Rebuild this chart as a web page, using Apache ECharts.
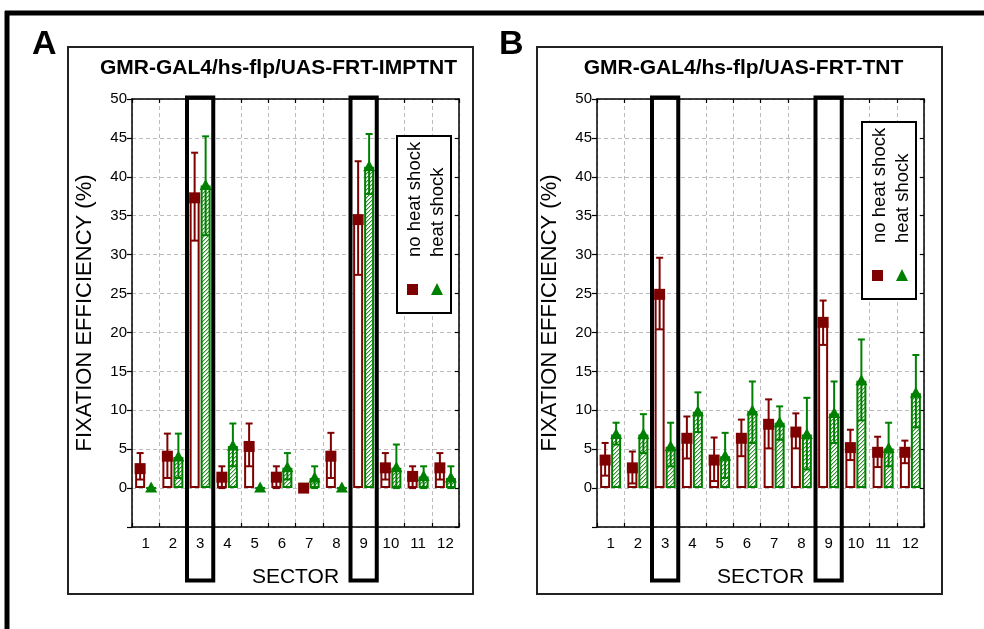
<!DOCTYPE html>
<html><head><meta charset="utf-8">
<script src="https://cdn.jsdelivr.net/npm/echarts@6/dist/echarts.min.js"></script>
<style>html,body{margin:0;padding:0;background:#fff}#c{width:984px;height:629px}</style>
</head><body><div id="c"></div>
<script>
// ---------- data ----------
const sectors = ['1','2','3','4','5','6','7','8','9','10','11','12'];
const highlighted = [2, 8]; // sector 3 and 9 (indices)

const titleA = 'GMR-GAL4/hs-flp/UAS-FRT-IMPTNT';
const titleB = 'GMR-GAL4/hs-flp/UAS-FRT-TNT';
const seriesNames = ['no heat shock', 'heat shock'];

// Panel A, no heat shock
const aNoMean = [2.5, 4.1, 37.3, 1.4, 5.35, 1.4, 0, 4.1, 34.5, 2.6, 1.5, 2.6];
const aNoLow  = [1.1, 1.3, 31.8, 0,   2.8,  0,   0, 1.3, 27.4, 1.1, 0,   1.1];
const aNoHigh = [4.5, 7.0, 43.1, 2.8, 8.3,  2.8, 0, 7.1, 42.0, 4.5, 2.8, 4.5];
// Panel A, heat shock
const aHsMean = [0, 4.0, 38.9, 5.4, 0, 2.6, 1.3, 0, 41.3, 2.6, 1.5, 1.3];
const aHsLow  = [0, 1.3, 32.5, 2.8, 0, 1.1, 0,   0, 37.8, 0,   0,   0];
const aHsHigh = [0, 7.0, 45.2, 8.3, 0, 4.5, 2.8, 0, 45.5, 5.6, 2.8, 2.8];
// Panel B, no heat shock
const bNoMean = [3.6, 2.6, 24.9, 6.4, 3.6, 6.4, 8.2, 7.2, 21.3, 5.2, 4.6, 4.6];
const bNoLow  = [1.6, 0.6, 20.4, 3.8, 0.9, 4.1, 5.1, 5.1, 18.4, 3.6, 2.7, 3.2];
const bNoHigh = [5.8, 4.7, 29.6, 9.2, 6.5, 8.8, 11.4, 9.6, 24.1, 7.5, 6.6, 6.1];
// Panel B, heat shock
const bHsMean = [6.9, 6.9, 5.3, 9.8, 4.1, 9.9, 8.4, 6.9, 9.6, 13.8, 5.1, 12.2];
const bHsLow  = [5.6, 4.5, 2.8, 7.2, 1.3, 5.8, 6.2, 2.4, 5.8, 8.7, 2.8, 7.8];
const bHsHigh = [8.4, 9.5, 8.4, 12.3, 7.1, 13.7, 10.5, 11.6, 13.7, 19.1, 8.4, 17.1];

// ---------- style ----------
const RED = '#7f0000';
const GREEN = '#008000';
const FONT = '"Liberation Sans", Arial, Helvetica, sans-serif';
const GRIDC = '#bcbcbc';

function makeHatch() {
  const c = document.createElement('canvas');
  c.width = 4; c.height = 4;
  const g = c.getContext('2d');
  g.fillStyle = '#ffffff'; g.fillRect(0, 0, 4, 4);
  for (let i = 0; i < 4; i++) {
    g.fillStyle = '#2f8f2f'; g.fillRect(i, 3 - i, 1, 1);
    g.fillStyle = '#a9d4a9'; g.fillRect((i + 1) % 4, 3 - i, 1, 1);
  }
  return c;
}
const hatch = { image: makeHatch(), repeat: 'repeat' };

const chart = echarts.init(document.getElementById('c'), null, { renderer: 'canvas' });

const grids = [
  { left: 132, top: 99, width: 327, height: 428 },
  { left: 597, top: 99, width: 327, height: 428 }
];

function xAxes(gi) {
  return [
    {
      type: 'category', gridIndex: gi, data: sectors, position: 'bottom',
      boundaryGap: true,
      axisLine: { onZero: false, lineStyle: { color: '#000', width: 1.5 } },
      axisTick: { show: true, inside: true, length: 4, lineStyle: { color: '#000', width: 1.2 } },
      axisLabel: { color: '#000', fontSize: 15, fontFamily: FONT, margin: 9, interval: 0 },
      splitLine: { show: true, lineStyle: { color: GRIDC, type: [4, 3], width: 1 } },
      name: 'SECTOR', nameLocation: 'middle', nameGap: 40,
      nameTextStyle: { color: '#000', fontSize: 21, fontFamily: FONT }
    },
    {
      type: 'category', gridIndex: gi, data: sectors, position: 'top',
      boundaryGap: true,
      axisLine: { onZero: false, lineStyle: { color: '#000', width: 1.5 } },
      axisTick: { show: true, inside: true, length: 4, lineStyle: { color: '#000', width: 1.2 } },
      axisLabel: { show: false }, splitLine: { show: false }
    }
  ];
}
function yAxes(gi) {
  return [
    {
      type: 'value', gridIndex: gi, min: -5, max: 50, interval: 5, position: 'left',
      axisLine: { show: true, onZero: false, lineStyle: { color: '#000', width: 1.5 } },
      axisTick: { show: true, inside: false, length: 5, lineStyle: { color: '#000', width: 1.2 } },
      axisLabel: { color: '#000', fontSize: 15, fontFamily: FONT, margin: 5,
        formatter: v => (v < 0 ? '' : String(v)) },
      splitLine: { show: true, lineStyle: { color: GRIDC, type: [4, 3], width: 1 } },
      name: 'FIXATION EFFICIENCY (%)', nameLocation: 'middle', nameGap: 36,
      nameTextStyle: { color: '#000', fontSize: 22, fontFamily: FONT }
    },
    {
      type: 'value', gridIndex: gi, min: -5, max: 50, interval: 5, position: 'right',
      axisLine: { show: true, onZero: false, lineStyle: { color: '#000', width: 1.5 } },
      axisTick: { show: true, inside: true, length: 4, lineStyle: { color: '#000', width: 1.2 } },
      axisLabel: { show: false }, splitLine: { show: false }
    }
  ];
}

const BAR_W = 10;
const OFF = 5.5;

function errRender(offset, color, shape) {
  return function (params, api) {
    const idx = api.value(0);
    const mean = api.value(1), lo = api.value(2), hi = api.value(3);
    const m = api.coord([idx, mean]);
    const pLo = api.coord([idx, lo]);
    const pHi = api.coord([idx, hi]);
    const x = m[0] + offset;
    const ch = [];
    if (hi > lo) {
      const st = { stroke: color, lineWidth: 2 };
      ch.push({ type: 'line', shape: { x1: x, y1: pHi[1], x2: x, y2: pLo[1] }, style: st });
      ch.push({ type: 'line', shape: { x1: x - 3.5, y1: pHi[1], x2: x + 3.5, y2: pHi[1] }, style: st });
      ch.push({ type: 'line', shape: { x1: x - 3.5, y1: pLo[1], x2: x + 3.5, y2: pLo[1] }, style: st });
    }
    if (shape === 'square') {
      ch.push({ type: 'rect', shape: { x: x - 5.5, y: m[1] - 5.5, width: 11, height: 11 }, style: { fill: color } });
    } else {
      ch.push({ type: 'polygon', shape: { points: [[x, m[1] - 6.5], [x - 6, m[1] + 4.5], [x + 6, m[1] + 4.5]] }, style: { fill: color } });
    }
    return { type: 'group', children: ch };
  };
}

function rows(mean, lo, hi) { return mean.map((v, i) => [i, v, lo[i], hi[i]]); }

function panelSeries(gi, noMean, noLo, noHi, hsMean, hsLo, hsHi) {
  const xi = gi * 2, yi = gi * 2;
  return [
    { type: 'bar', name: seriesNames[0], xAxisIndex: xi, yAxisIndex: yi, data: noMean,
      barWidth: BAR_W, barGap: '10%', z: 2,
      itemStyle: { color: '#fff', borderColor: RED, borderWidth: 2 } },
    { type: 'bar', name: seriesNames[1], xAxisIndex: xi, yAxisIndex: yi, data: hsMean,
      barWidth: BAR_W, barGap: '10%', z: 2,
      itemStyle: { color: hatch, borderColor: GREEN, borderWidth: 2 } },
    { type: 'custom', xAxisIndex: xi, yAxisIndex: yi, z: 4,
      renderItem: errRender(-OFF, RED, 'square'),
      encode: { x: 0, y: 1 }, data: rows(noMean, noLo, noHi) },
    { type: 'custom', xAxisIndex: xi, yAxisIndex: yi, z: 4,
      renderItem: errRender(OFF, GREEN, 'triangle'),
      encode: { x: 0, y: 1 }, data: rows(hsMean, hsLo, hsHi) }
  ];
}

const option = {
  animation: false,
  backgroundColor: '#fff',
  textStyle: { fontFamily: FONT },
  grid: grids,
  xAxis: [...xAxes(0), ...xAxes(1)],
  yAxis: [...yAxes(0), ...yAxes(1)],
  series: [
    ...panelSeries(0, aNoMean, aNoLow, aNoHigh, aHsMean, aHsLow, aHsHigh),
    ...panelSeries(1, bNoMean, bNoLow, bNoHigh, bHsMean, bHsLow, bHsHigh)
  ]
};
chart.setOption(option);

// ---------- decorations (frames, titles, legends, highlight boxes) ----------
const g = [];
// outer frame (cropped)
g.push({ type: 'line', z: 100, shape: { x1: 5, y1: 13, x2: 984, y2: 13 }, style: { stroke: '#000', lineWidth: 5 } });
g.push({ type: 'line', z: 100, shape: { x1: 7, y1: 11, x2: 7, y2: 629 }, style: { stroke: '#000', lineWidth: 5 } });

const panels = [
  { box: [68, 47, 405, 547], letter: 'A', lx: 32, title: titleA, tx: 278.5 },
  { box: [537, 47, 405, 547], letter: 'B', lx: 499, title: titleB, tx: 743.5 }
];
panels.forEach((p, gi) => {
  g.push({ type: 'rect', z: 1, silent: true,
    shape: { x: p.box[0], y: p.box[1], width: p.box[2], height: p.box[3] },
    style: { fill: 'none', stroke: '#222', lineWidth: 2 } });
  g.push({ type: 'text', z: 100, x: p.lx, y: 62,
    style: { text: p.letter, font: 'bold 34px ' + FONT, fill: '#000', textAlign: 'left', textVerticalAlign: 'bottom' } });
  g.push({ type: 'text', z: 100, x: p.tx, y: 68,
    style: { text: p.title, font: 'bold 21px ' + FONT, fill: '#000', textAlign: 'center', textVerticalAlign: 'middle' } });

  // highlight boxes around sectors 3 and 9
  const c0 = chart.convertToPixel({ xAxisIndex: gi * 2 }, sectors[0]);
  const c1 = chart.convertToPixel({ xAxisIndex: gi * 2 }, sectors[1]);
  const band = c1 - c0;
  const gr = grids[gi];
  highlighted.forEach(idx => {
    const cx = chart.convertToPixel({ xAxisIndex: gi * 2 }, sectors[idx]);
    g.push({ type: 'rect', z: 90,
      shape: { x: cx - band / 2 + 0.5, y: gr.top - 1.5, width: band - 1, height: gr.height + 55 },
      style: { fill: 'none', stroke: '#000', lineWidth: 4 } });
  });

  // legend
  const lx = gr.left + gr.width - 62;
  const ly = gi === 0 ? 136 : 122;
  g.push({ type: 'rect', z: 95, shape: { x: lx, y: ly, width: 54, height: 177 },
    style: { fill: '#fff', stroke: '#000', lineWidth: 2 } });
  g.push({ type: 'text', z: 96, x: lx + 18, y: ly + 121, rotation: Math.PI / 2,
    style: { text: seriesNames[0], font: '18.5px ' + FONT, fill: '#000', textAlign: 'left', textVerticalAlign: 'middle' } });
  g.push({ type: 'text', z: 96, x: lx + 41, y: ly + 121, rotation: Math.PI / 2,
    style: { text: seriesNames[1], font: '18.5px ' + FONT, fill: '#000', textAlign: 'left', textVerticalAlign: 'middle' } });
  g.push({ type: 'rect', z: 96, shape: { x: lx + 10, y: ly + 148, width: 11, height: 11 }, style: { fill: RED } });
  g.push({ type: 'polygon', z: 96, shape: { points: [[lx + 40, ly + 147], [lx + 34, ly + 159], [lx + 46, ly + 159]] }, style: { fill: GREEN } });
});

chart.setOption({ graphic: { elements: g } });
</script>
</body></html>
